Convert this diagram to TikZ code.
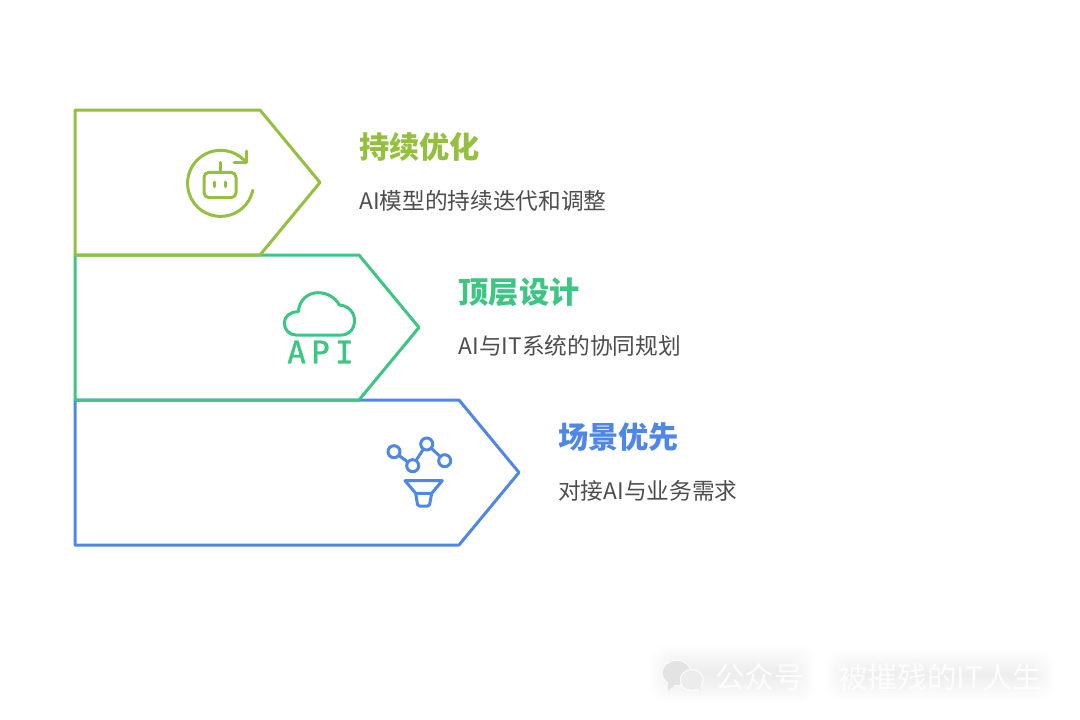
\documentclass[tikz,border=0pt]{standalone}
\usepackage{fontspec}
\setmainfont{Liberation Sans}
\newfontfamily\cjk{Noto Sans CJK SC}
\newfontfamily\apifont[LetterSpace=17,FakeBold=0.9]{DejaVu Sans Mono}
\definecolor{cgreen}{HTML}{95BF3E}
\definecolor{cteal}{HTML}{3CC583}
\definecolor{cblue}{HTML}{4F87E6}
\definecolor{ctext}{HTML}{4D4D4D}
\tikzset{
  chevron/.style={line width=3pt,line join=round},
  iconline/.style={line width=3pt,line cap=round,line join=round},
  titletext/.style={anchor=west,inner sep=0pt,font=\cjk\bfseries\fontsize{30.2}{34}\selectfont},
  subtext/.style={anchor=west,inner sep=0pt,text=ctext,font=\cjk\fontsize{22.7}{26}\selectfont},
  marktext/.style={anchor=west,inner sep=0pt,text=white,opacity=.85,font=\cjk\fontsize{29.6}{33}\selectfont},
}
\begin{document}
\begin{tikzpicture}[x=1pt,y=-1pt]
\useasboundingbox[fill=white] (0,0) rectangle (1080,720);
% chevrons: the upper one lies on top of the lower one
\draw[chevron,cblue] (75,400) -- (459,400) -- (519,472.5) -- (459,545) -- (75,545) -- cycle;
\draw[chevron,cteal] (75,255) -- (359,255) -- (419,327.5) -- (359,400) -- (75,400) -- cycle;
\draw[chevron,cgreen] (75,110) -- (260,110) -- (320,182.5) -- (260,255) -- (75,255) -- cycle;
% robot icon
\begin{scope}[iconline,cgreen]
  \draw (245.5,161.7) arc[start angle=-41,end angle=-348,radius=33];
  \draw (246,151) -- (246,162.3) -- (234,162.3);
  \draw[rounded corners=5pt] (204,172.3) rectangle (236,197.7);
  \draw (220,162.3) -- (220,172.3);
  \draw (214.3,182) -- (214.3,186.7);
  \draw (225.7,182) -- (225.7,186.7);
\end{scope}
% cloud API icon
\draw[iconline,cteal] (296,335) -- (341.5,335)
  .. controls (349,335) and (354.5,329) .. (354.5,320.5)
  .. controls (354.5,312) and (348,305.5) .. (339.3,305)
  .. controls (335.5,297.5) and (327,292.7) .. (318,292.7)
  .. controls (307,292.7) and (299,301) .. (298.3,311.7)
  .. controls (290,311.7) and (284.3,316.5) .. (284.3,323)
  .. controls (284.3,330) and (289.5,335) .. (296,335) -- cycle;
\node[inner sep=0pt,text=cteal,font=\apifont\fontsize{31}{34}\selectfont] (apilabel) at (320.5,352) {API};
% funnel icon
\begin{scope}[iconline,cblue]
  \node[circle,draw,iconline,minimum size=12pt,inner sep=0pt] (p1) at (394,451.7) {};
  \node[circle,draw,iconline,minimum size=12pt,inner sep=0pt] (p2) at (412.7,465.7) {};
  \node[circle,draw,iconline,minimum size=12pt,inner sep=0pt] (p3) at (426.7,444) {};
  \node[circle,draw,iconline,minimum size=12pt,inner sep=0pt] (p4) at (444.7,460.7) {};
  \draw (p1) -- (p2);
  \draw (p2) -- (p3);
  \draw (p3) -- (p4);
  \draw (405,480.7) -- (442.3,480.7) -- (431.7,493.3) -- (415.7,493.3) -- cycle;
  \draw[rounded corners=1.5pt] (415.7,493.3) -- (417.7,506) -- (429.3,506) -- (431.7,493.3);
\end{scope}
% labels
\node[titletext,text=cgreen] (t1) at (359,147) {持续优化};
\node[subtext] (s1) at (359,200.5) {AI模型的持续迭代和调整};
\node[titletext,text=cteal] (t2) at (458.5,292) {顶层设计};
\node[subtext] (s2) at (458.5,345.5) {AI与IT系统的协同规划};
\node[titletext,text=cblue] (t3) at (558,437) {场景优先};
\node[subtext] (s3) at (558,490.5) {对接AI与业务需求};
% watermark
\foreach \i in {0,...,17}{
  \fill[black,opacity=.005,rounded corners=16pt] (650+\i*1.5,645+\i*1.5) rectangle (815-\i*1.5,703-\i*1.5);
  \fill[black,opacity=.005,rounded corners=16pt] (825+\i*1.5,650+\i*1.5) rectangle (1055-\i*1.5,700-\i*1.5);
}
\fill[white,opacity=.9] (676.5,673) ellipse[x radius=15,y radius=13];
\fill[gray!22] (676.5,673) ellipse[x radius=14,y radius=12];
\fill[gray!22] (668,683) -- (668,691) -- (676,684) -- cycle;
\fill[white] (691.7,680) ellipse[x radius=12,y radius=11];
\fill[gray!15] (691.7,680) ellipse[x radius=11,y radius=10];
\fill[gray!15] (697,688) -- (701,692) -- (700,685) -- cycle;
\node[marktext] (m1) at (715,677) {公众号};
\node[marktext] (m2) at (838,677) {被摧残的IT人生};
\end{tikzpicture}
\end{document}
